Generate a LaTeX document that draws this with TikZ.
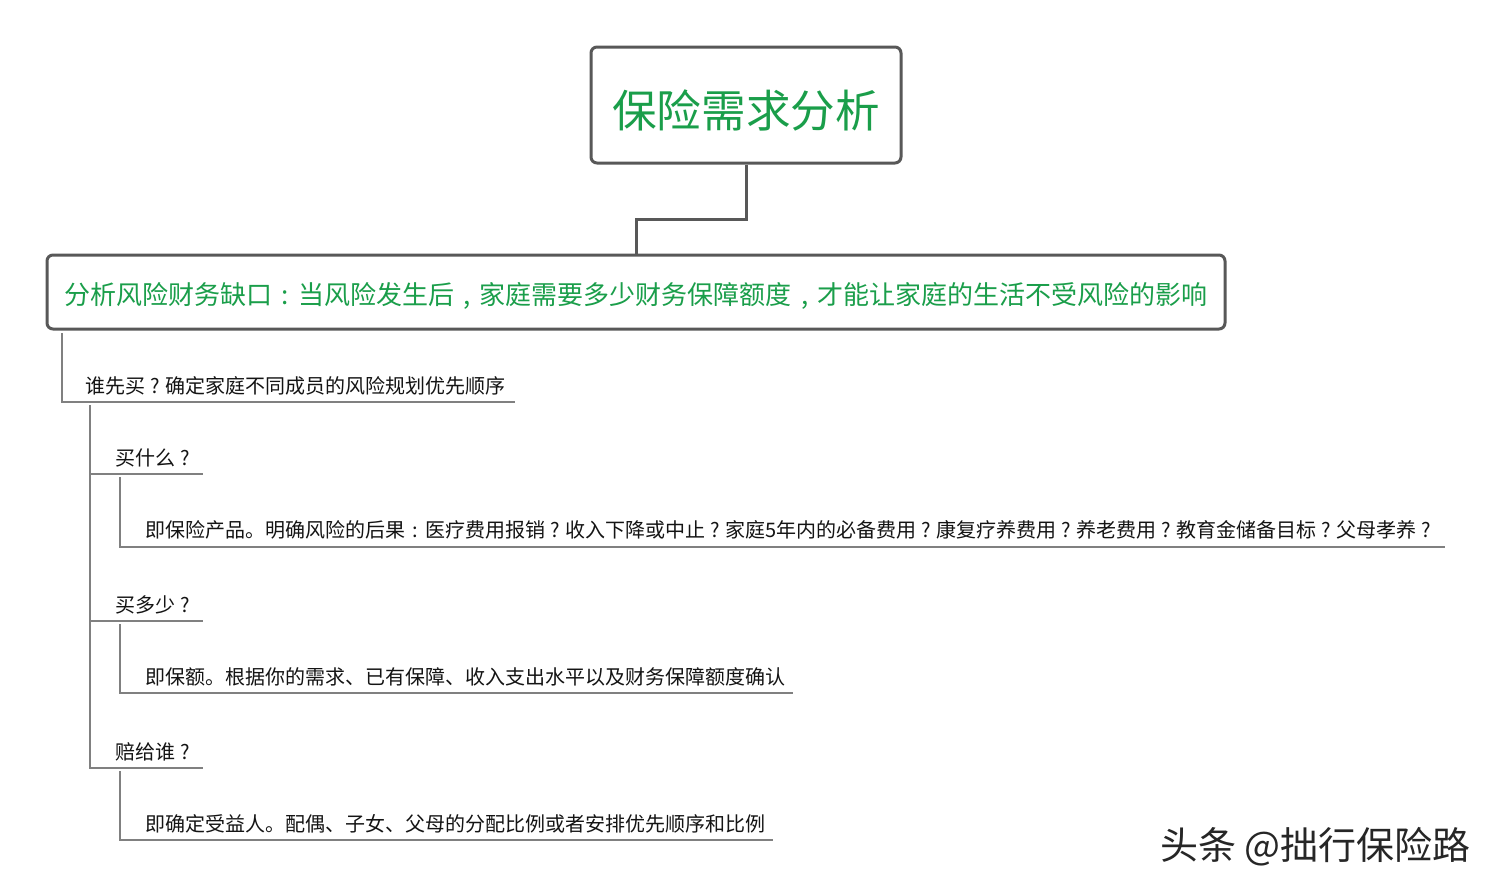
\documentclass[tikz,border=0pt]{standalone}
\usepackage{fontspec}
\setmainfont{Noto Sans CJK SC}
\definecolor{boxgreen}{RGB}{26,158,74}
\definecolor{boxborder}{RGB}{88,88,88}
\definecolor{treeline}{RGB}{128,128,128}
\definecolor{subtext}{RGB}{20,20,20}
\newcommand{\cq}{\makebox[1em][c]{?}}
\newcommand{\cc}{\makebox[1em][c]{:}}
\newcommand{\cm}{\makebox[1em][c]{,}}
\begin{document}
\begin{tikzpicture}[x=0.5pt,y=-0.5pt,
  framebox/.style={draw=boxborder,line width=1.5pt,rounded corners=3pt,fill=white,inner sep=0pt},
  titletext/.style={text=boxgreen,inner sep=0pt,font=\fontsize{22.3}{26}\selectfont},
  maintext/.style={text=boxgreen,inner sep=0pt,font=\fontsize{13}{16}\selectfont},
  subnode/.style={text=subtext,inner sep=0pt,anchor=west,font=\fontsize{10}{12}\selectfont},
  conn/.style={draw=boxborder,line width=1.5pt},
  tree/.style={draw=treeline,line width=0.75pt}]
\useasboundingbox (0,0) rectangle (1499,890);
\fill[white] (0,0) rectangle (1499,890);

% root
\node[framebox,minimum width=155pt,minimum height=58pt] (root) at (746,105) {};
\node[titletext] (roottxt) at (746,110) {保险需求分析};

% main box
\node[framebox,minimum width=589pt,minimum height=37pt] (main) at (636,292) {};
\node[maintext] (maintxt) at (636,296) {分析风险财务缺口\cc 当风险发生后\cm 家庭需要多少财务保障额度\cm 才能让家庭的生活不受风险的影响};

\draw[conn] (root.south) |- (691,219) -| (main.north);

% level 1
\coordinate (v0) at (62,333);
\node[subnode] (q0) at (85,386) {谁先买\cq 确定家庭不同成员的风险规划优先顺序};
\coordinate (e0) at (515,402);
\draw[tree] (v0) |- (e0);

% level 2
\coordinate (v1) at (90,405);
\node[subnode] (q1) at (115,458) {买什么\cq};
\node[subnode] (q2) at (115,605) {买多少\cq};
\node[subnode] (q3) at (115,752) {赔给谁\cq};
\coordinate (e1) at (203,474);
\coordinate (e2) at (203,621);
\coordinate (e3) at (203,768);
\draw[tree] (v1) |- (e1);
\draw[tree] (v1) |- (e2);
\draw[tree] (v1) |- (e3);

% level 3
\coordinate (w1) at (120,477);
\coordinate (w2) at (120,624);
\coordinate (w3) at (120,771);
\node[subnode] (d1) at (145,530) {即保险产品。明确风险的后果\cc 医疗费用报销\cq 收入下降或中止\cq 家庭5年内的必备费用\cq 康复疗养费用\cq 养老费用\cq 教育金储备目标\cq 父母孝养\cq};
\node[subnode] (d2) at (145,677) {即保额。根据你的需求、已有保障、收入支出水平以及财务保障额度确认};
\node[subnode] (d3) at (145,824) {即确定受益人。配偶、子女、父母的分配比例或者安排优先顺序和比例};
\coordinate (f1) at (1445,547);
\coordinate (f2) at (793,693);
\coordinate (f3) at (773,840);
\draw[tree] (w1) |- (f1);
\draw[tree] (w2) |- (f2);
\draw[tree] (w3) |- (f3);

% watermark
\node[anchor=west,inner sep=0pt,text=black!85,font=\fontsize{19}{22}\selectfont] (wm) at (1160,847) {头条 @拙行保险路};
\end{tikzpicture}
\end{document}
